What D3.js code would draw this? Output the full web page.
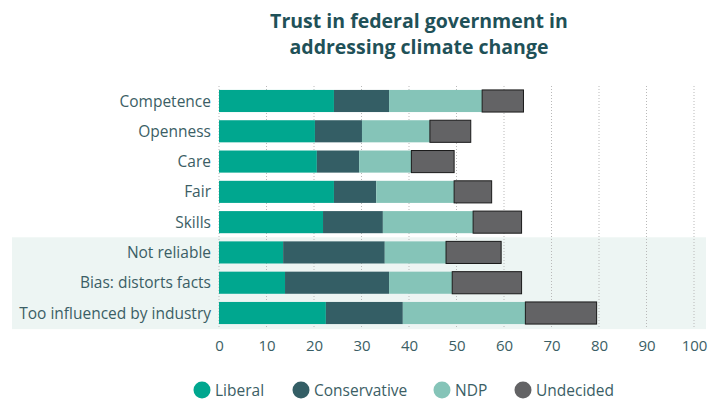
<!DOCTYPE html>
<html>
<head>
<meta charset="utf-8">
<script src="https://cdn.jsdelivr.net/npm/d3@7"></script>
<style>
  body { margin: 0; background: #fff; }
  svg { display: block; font-family: 'Open Sans', sans-serif; }
</style>
</head>
<body>
<svg id="chart"></svg>
<script>
// data
const categories = ['Competence', 'Openness', 'Care', 'Fair', 'Skills', 'Not reliable', 'Bias: distorts facts', 'Too influenced by industry']
const parties = ['Liberal', 'Conservative', 'NDP', 'Undecided']
const liberal = [24.2, 20.2, 20.6, 24.2, 21.9, 13.5, 13.9, 22.5]
const conservative = [11.6, 9.9, 8.9, 8.9, 12.6, 21.4, 21.9, 16.2]
const ndp = [19.6, 14.3, 11.0, 16.4, 19.0, 12.9, 13.3, 25.8]
const undecided = [8.7, 8.6, 9.0, 7.9, 10.2, 11.6, 14.6, 15.0]
const highlighted = ['Not reliable', 'Bias: distorts facts', 'Too influenced by industry']
const ticks = [0, 10, 20, 30, 40, 50, 60, 70, 80, 90, 100]

const width = 722
const height = 400
const margin = {top: 86, right: 28, bottom: 72, left: 219}

const svg = d3.select('#chart')
  .attr('width', width)
  .attr('height', height)

const colors = d3.scaleOrdinal()
  .domain(parties)
  .range(['#00a78f', '#345e65', '#85c4b8', '#636365'])

const table = categories.map((c, i) => ({
  category: c,
  Liberal: liberal[i],
  Conservative: conservative[i],
  NDP: ndp[i],
  Undecided: undecided[i]
}))
const series = d3.stack().keys(parties)(table)

const x = d3.scaleLinear()
  .domain([0, 100])
  .range([margin.left, 694])

const y = d3.scaleBand()
  .domain(categories)
  .range([margin.top, height - margin.bottom])
  .paddingInner(0.27)
  .paddingOuter(0.13)

// highlight band behind the last three rows
const hl0 = y(highlighted[0]) - y.step() * y.paddingInner() / 2
const hl1 = y(highlighted[highlighted.length - 1]) + y.bandwidth() + y.step() * y.paddingInner() / 2 + 1
svg.append('rect')
  .attr('x', 12)
  .attr('y', hl0)
  .attr('width', 706 - 12)
  .attr('height', hl1 - hl0)
  .attr('fill', '#edf5f3')

// dotted grid
svg.append('g')
  .selectAll('line')
  .data(ticks)
  .join('line')
  .attr('x1', d => x(d))
  .attr('x2', d => x(d))
  .attr('y1', margin.top)
  .attr('y2', height - margin.bottom)
  .attr('stroke', '#b9b9b9')
  .attr('stroke-width', 1)
  .attr('stroke-dasharray', '1,2')

// bars
const layers = svg.append('g')
  .selectAll('g')
  .data(series)
  .join('g')
  .attr('fill', d => colors(d.key))

layers.selectAll('rect')
  .data(d => d.map(v => Object.assign(v, {key: d.key})))
  .join('rect')
  .attr('x', d => x(d[0]))
  .attr('y', d => y(d.data.category))
  .attr('width', d => x(d[1]) - x(d[0]))
  .attr('height', y.bandwidth())
  .attr('stroke', d => d.key === 'Undecided' ? '#1a1a1a' : 'none')
  .attr('stroke-width', d => d.key === 'Undecided' ? 1 : 0)

// category labels
svg.append('g')
  .selectAll('text')
  .data(categories)
  .join('text')
  .attr('x', 211)
  .attr('y', d => y(d) + y.bandwidth() / 2)
  .attr('dy', '0.36em')
  .attr('text-anchor', 'end')
  .attr('font-size', '15.5px')
  .attr('fill', '#3b5e65')
  .text(d => d)

// x axis
const xAxis = svg.append('g')
  .attr('transform', `translate(0,${height - margin.bottom})`)
  .call(d3.axisBottom(x).tickValues(ticks).tickSize(0).tickPadding(12))
xAxis.select('.domain').remove()
xAxis.selectAll('text')
  .attr('font-family', "'Open Sans', sans-serif")
  .attr('font-size', '15px')
  .attr('fill', '#3b5e65')

// title
const title = svg.append('text')
  .attr('text-anchor', 'middle')
  .attr('font-size', '19.5px')
  .attr('font-weight', 'bold')
  .attr('fill', '#1f5158')
title.append('tspan').attr('x', 419).attr('y', 28).text('Trust in federal government in')
title.append('tspan').attr('x', 419).attr('y', 54).text('addressing climate change')

// legend
const legendX = [202, 301, 442, 523]
const legend = svg.append('g')
  .selectAll('g')
  .data(parties)
  .join('g')
  .attr('transform', (d, i) => `translate(${legendX[i]},390)`)
legend.append('circle')
  .attr('r', 8.5)
  .attr('fill', d => colors(d))
legend.append('text')
  .attr('x', 13)
  .attr('dy', '0.36em')
  .attr('font-size', '15.5px')
  .attr('fill', '#3b5e65')
  .text(d => d)
</script>
</body>
</html>
